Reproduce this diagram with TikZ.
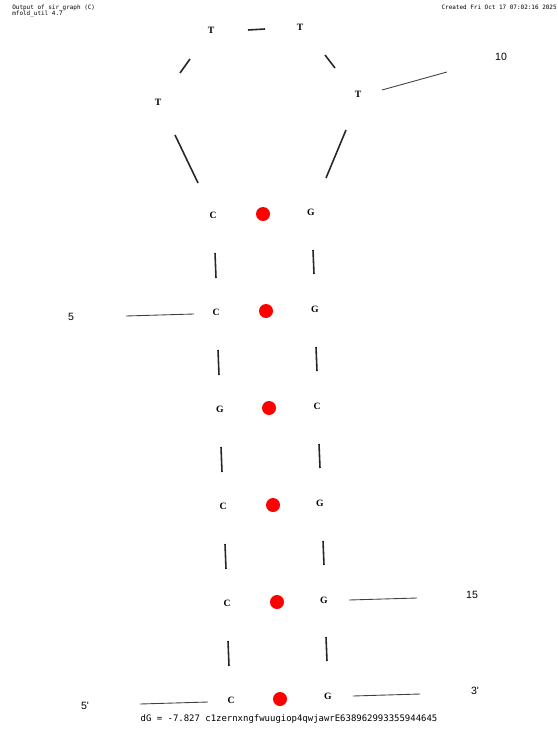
\documentclass[tikz,border=0pt]{standalone}
\usepackage{fontspec}
\setmainfont{Liberation Serif}
\newfontfamily\monofont{DejaVu Sans Mono}
\newfontfamily\sansfont{Liberation Sans}
\begin{document}
\begin{tikzpicture}[x=0.02cm,y=-0.02cm,
  base/.style={font=\fontsize{5.5}{6}\selectfont\bfseries, inner sep=0pt},
  numlbl/.style={font=\sansfont\fontsize{6}{7}\selectfont, inner sep=0pt},
  hdr/.style={font=\monofont\fontsize{3.4}{4}\selectfont, inner sep=0pt},
  bond/.style={line width=0.9pt, black!85},
  tick/.style={line width=0.5pt, black!75},
  pair/.style={circle, fill=red, inner sep=0pt, minimum size=0.28cm}]
\useasboundingbox (0,0) rectangle (557,729);
% header
\node[hdr, anchor=north west] (h1) at (12,5) {Output of sir\_graph (C)};
\node[hdr, anchor=north west] (h2) at (12,11) {mfold\_util 4.7};
\node[hdr, anchor=north east] (h3) at (557,5) {Created Fri Oct 17 07:02:16 2025};
% loop
\node[base] (t1) at (158,102) {T};
\node[base] (t2) at (211,30) {T};
\node[base] (t3) at (300,27) {T};
\node[base] (t4) at (358,94) {T};
% left strand
\node[base] (l1) at (213,215) {C};
\node[base] (l2) at (216,312) {C};
\node[base] (l3) at (220,409) {G};
\node[base] (l4) at (223,506) {C};
\node[base] (l5) at (227,603) {C};
\node[base] (l6) at (231,700) {C};
% right strand
\node[base] (r1) at (311,212) {G};
\node[base] (r2) at (315,309) {G};
\node[base] (r3) at (317,406) {C};
\node[base] (r4) at (320,503) {G};
\node[base] (r5) at (324,600) {G};
\node[base] (r6) at (328,696) {G};
% pairs
\node[pair] (p1) at (263,214) {};
\node[pair] (p2) at (266,311) {};
\node[pair] (p3) at (269,408) {};
\node[pair] (p4) at (273,505) {};
\node[pair] (p5) at (277,602) {};
\node[pair] (p6) at (280,699) {};
% backbone
\draw[bond] (215,253) -- (216,278);
\draw[bond] (218,350) -- (219,375);
\draw[bond] (221,447) -- (222,472);
\draw[bond] (225,544) -- (226,569);
\draw[bond] (228,641) -- (229,666);
\draw[bond] (313,250) -- (314,274);
\draw[bond] (316,347) -- (317,371);
\draw[bond] (319,444) -- (320,468);
\draw[bond] (323,541) -- (324,565);
\draw[bond] (326,637) -- (327,661);
\draw[bond] (175,135) -- (198,183);
\draw[bond] (180,73) -- (190,59);
\draw[bond] (248,30) -- (265,29);
\draw[bond] (325,55) -- (335,68);
\draw[bond] (346,130) -- (326,178);
% numbering ticks
\draw[tick] (382,90) -- (447,72);
\draw[tick] (126,316) -- (194,314);
\draw[tick] (349,600) -- (417,598);
\draw[tick] (353,696) -- (420,694);
\draw[tick] (140,704) -- (208,702);
\node[numlbl] (n10) at (501,57) {10};
\node[numlbl] (n5) at (71,317) {5};
\node[numlbl] (n15) at (472,595) {15};
\node[numlbl] (n3) at (475,691) {3'};
\node[numlbl] (n5p) at (85,706) {5'};
% footer
\node[font=\monofont\fontsize{5.1}{6}\selectfont, inner sep=0pt] (ft) at (289,719) {dG = -7.827 c1zernxngfwuugiop4qwjawrE638962993355944645};
\end{tikzpicture}
\end{document}
